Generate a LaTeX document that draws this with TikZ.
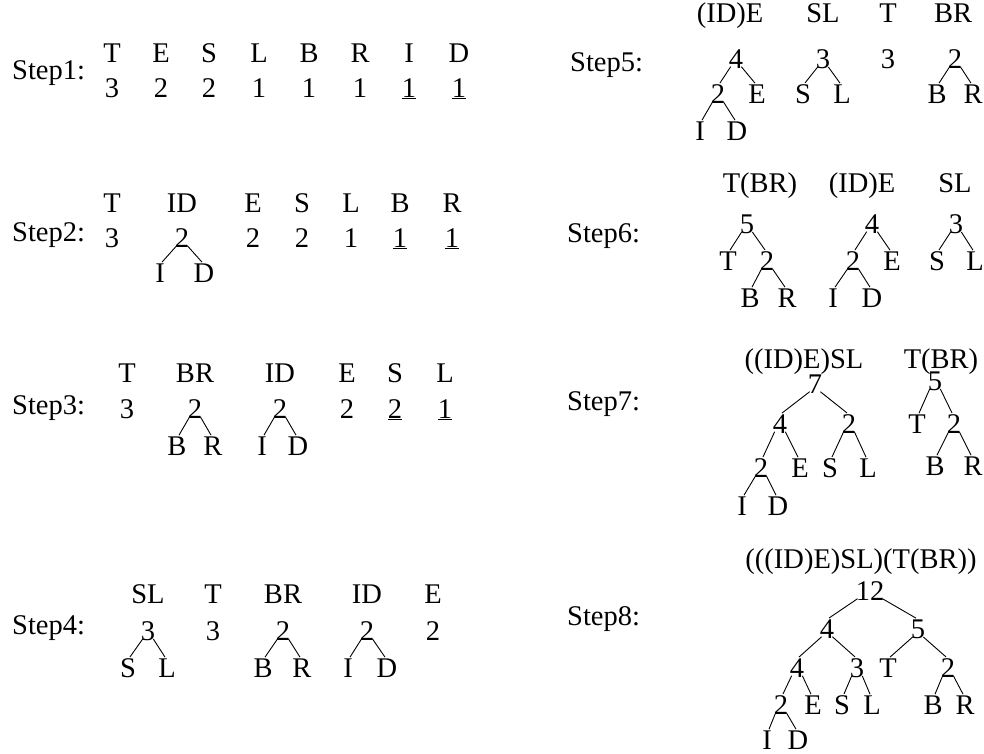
\documentclass[tikz,border=0pt]{standalone}
\usepackage{fontspec}
\setmainfont{Liberation Serif}
\newcommand{\fsz}{\fontsize{28.5}{30}\selectfont}
\tikzset{
  lbl/.style={inner sep=0pt, anchor=base, font=\fsz},
  steplbl/.style={inner sep=0pt, anchor=base west, font=\fsz},
  edge/.style={line width=0.9pt}
}
\newcommand{\lr}[3]{%
  \draw[edge] ([xshift=2pt,yshift=1.5pt]#1.south west) -- ([xshift=2pt,yshift=1pt]#2.north);
  \draw[edge] ([xshift=-2pt,yshift=1.5pt]#1.south east) -- ([xshift=-2pt,yshift=1pt]#3.north);}
\begin{document}
\begin{tikzpicture}[x=1pt,y=-1pt]
\useasboundingbox (0,0) rectangle (984,753);
% ---------- Step 1
\node[steplbl] (s1) at (12,79) {Step1:};
\node[lbl] (a1) at (112,62) {T};
\node[lbl] (a2) at (161,62) {E};
\node[lbl] (a3) at (209,62) {S};
\node[lbl] (a4) at (259,62) {L};
\node[lbl] (a5) at (309,62) {B};
\node[lbl] (a6) at (360,62) {R};
\node[lbl] (a7) at (409,62) {I};
\node[lbl] (a8) at (459,62) {D};
\node[lbl] (b1) at (112,97) {3};
\node[lbl] (b2) at (161,97) {2};
\node[lbl] (b3) at (209,97) {2};
\node[lbl] (b4) at (259,97) {1};
\node[lbl] (b5) at (309,97) {1};
\node[lbl] (b6) at (360,97) {1};
\node[lbl] (b7) at (409,97) {\underline{1}};
\node[lbl] (b8) at (459,97) {\underline{1}};
% ---------- Step 2
\node[steplbl] (s2) at (12,241) {Step2:};
\node[lbl] (c1) at (112,212) {T};
\node[lbl] (c2) at (182,212) {ID};
\node[lbl] (c3) at (253,212) {E};
\node[lbl] (c4) at (302,212) {S};
\node[lbl] (c5) at (351,212) {L};
\node[lbl] (c6) at (400,212) {B};
\node[lbl] (c7) at (452,212) {R};
\node[lbl] (d1) at (112,247) {3};
\node[lbl] (d2) at (182,247) {2};
\node[lbl] (d3) at (253,247) {2};
\node[lbl] (d4) at (302,247) {2};
\node[lbl] (d5) at (351,247) {1};
\node[lbl] (d6) at (400,247) {\underline{1}};
\node[lbl] (d7) at (452,247) {\underline{1}};
\node[lbl] (d2l) at (160,282) {I};
\node[lbl] (d2r) at (204,282) {D};
\lr{d2}{d2l}{d2r}
% ---------- Step 3
\node[steplbl] (s3) at (12,414) {Step3:};
\node[lbl] (e1) at (127,382) {T};
\node[lbl] (e2) at (195,382) {BR};
\node[lbl] (e3) at (280,382) {ID};
\node[lbl] (e4) at (347,382) {E};
\node[lbl] (e5) at (395,382) {S};
\node[lbl] (e6) at (445,382) {L};
\node[lbl] (f1) at (127,418) {3};
\node[lbl] (f2) at (195,418) {2};
\node[lbl] (f3) at (280,418) {2};
\node[lbl] (f4) at (347,418) {2};
\node[lbl] (f5) at (395,418) {\underline{2}};
\node[lbl] (f6) at (445,418) {\underline{1}};
\node[lbl] (f2l) at (177,455) {B};
\node[lbl] (f2r) at (213,455) {R};
\node[lbl] (f3l) at (262,455) {I};
\node[lbl] (f3r) at (298,455) {D};
\lr{f2}{f2l}{f2r}
\lr{f3}{f3l}{f3r}
% ---------- Step 4
\node[steplbl] (s4) at (12,634) {Step4:};
\node[lbl] (g1) at (148,603) {SL};
\node[lbl] (g2) at (213,603) {T};
\node[lbl] (g3) at (283,603) {BR};
\node[lbl] (g4) at (367,603) {ID};
\node[lbl] (g5) at (433,603) {E};
\node[lbl] (h1) at (148,640) {3};
\node[lbl] (h2) at (213,640) {3};
\node[lbl] (h3) at (283,640) {2};
\node[lbl] (h4) at (367,640) {2};
\node[lbl] (h5) at (433,640) {2};
\node[lbl] (h1l) at (128,677) {S};
\node[lbl] (h1r) at (167,677) {L};
\node[lbl] (h3l) at (263,677) {B};
\node[lbl] (h3r) at (302,677) {R};
\node[lbl] (h4l) at (348,677) {I};
\node[lbl] (h4r) at (387,677) {D};
\lr{h1}{h1l}{h1r}
\lr{h3}{h3l}{h3r}
\lr{h4}{h4l}{h4r}
% ---------- Step 5
\node[steplbl] (s5) at (570,71) {Step5:};
\node[lbl] (i1) at (730,22) {(ID)E};
\node[lbl] (i2) at (823,22) {SL};
\node[lbl] (i3) at (888,22) {T};
\node[lbl] (i4) at (953,22) {BR};
\node[lbl] (j1) at (736,68) {4};
\node[lbl] (j2) at (823,68) {3};
\node[lbl] (j3) at (888,68) {3};
\node[lbl] (j4) at (955,68) {2};
\node[lbl] (j1l) at (718,103) {2};
\node[lbl] (j1r) at (757,103) {E};
\node[lbl] (j2l) at (803,103) {S};
\node[lbl] (j2r) at (842,103) {L};
\node[lbl] (j4l) at (937,103) {B};
\node[lbl] (j4r) at (973,103) {R};
\node[lbl] (j1ll) at (700,140) {I};
\node[lbl] (j1lr) at (737,140) {D};
\lr{j1}{j1l}{j1r}
\lr{j1l}{j1ll}{j1lr}
\lr{j2}{j2l}{j2r}
\lr{j4}{j4l}{j4r}
% ---------- Step 6
\node[steplbl] (s6) at (567,242) {Step6:};
\node[lbl] (k1) at (760,192) {T(BR)};
\node[lbl] (k2) at (862,192) {(ID)E};
\node[lbl] (k3) at (955,192) {SL};
\node[lbl] (m1) at (747,233) {5};
\node[lbl] (m2) at (872,233) {4};
\node[lbl] (m3) at (956,233) {3};
\node[lbl] (m1l) at (728,270) {T};
\node[lbl] (m1r) at (767,270) {2};
\node[lbl] (m2l) at (853,270) {2};
\node[lbl] (m2r) at (892,270) {E};
\node[lbl] (m3l) at (937,270) {S};
\node[lbl] (m3r) at (975,270) {L};
\node[lbl] (m1rl) at (750,307) {B};
\node[lbl] (m1rr) at (787,307) {R};
\node[lbl] (m2ll) at (833,307) {I};
\node[lbl] (m2lr) at (872,307) {D};
\lr{m1}{m1l}{m1r}
\lr{m1r}{m1rl}{m1rr}
\lr{m2}{m2l}{m2r}
\lr{m2l}{m2ll}{m2lr}
\lr{m3}{m3l}{m3r}
% ---------- Step 7
\node[steplbl] (s7) at (567,410) {Step7:};
\node[lbl] (n1) at (804,368) {((ID)E)SL};
\node[lbl] (n2) at (941,368) {T(BR)};
\node[lbl] (p1) at (815,393) {7};
\node[lbl] (p2) at (935,390) {5};
\node[lbl] (p1l) at (780,433) {4};
\node[lbl] (p1r) at (849,433) {2};
\node[lbl] (p2l) at (917,433) {T};
\node[lbl] (p2r) at (954,433) {2};
\node[lbl] (p1ll) at (761,477) {2};
\node[lbl] (p1lr) at (800,477) {E};
\node[lbl] (p1rl) at (830,477) {S};
\node[lbl] (p1rr) at (868,477) {L};
\node[lbl] (p2rl) at (935,475) {B};
\node[lbl] (p2rr) at (973,475) {R};
\node[lbl] (p1lll) at (742,515) {I};
\node[lbl] (p1llr) at (778,515) {D};
\lr{p1}{p1l}{p1r}
\lr{p1l}{p1ll}{p1lr}
\lr{p1ll}{p1lll}{p1llr}
\lr{p1r}{p1rl}{p1rr}
\lr{p2}{p2l}{p2r}
\lr{p2r}{p2rl}{p2rr}
% ---------- Step 8
\node[steplbl] (s8) at (567,625) {Step8:};
\node[lbl] (q0) at (861,568) {(((ID)E)SL)(T(BR))};
\node[lbl] (r0) at (870,600) {12};
\node[lbl] (r1) at (827,638) {4};
\node[lbl] (r2) at (918,638) {5};
\node[lbl] (r11) at (797,677) {4};
\node[lbl] (r12) at (857,677) {3};
\node[lbl] (r21) at (888,677) {T};
\node[lbl] (r22) at (948,677) {2};
\node[lbl] (r111) at (781,714) {2};
\node[lbl] (r112) at (813,714) {E};
\node[lbl] (r121) at (842,714) {S};
\node[lbl] (r122) at (872,714) {L};
\node[lbl] (r221) at (933,714) {B};
\node[lbl] (r222) at (965,714) {R};
\node[lbl] (r1111) at (767,749) {I};
\node[lbl] (r1112) at (798,749) {D};
\lr{r0}{r1}{r2}
\lr{r1}{r11}{r12}
\lr{r11}{r111}{r112}
\lr{r111}{r1111}{r1112}
\lr{r12}{r121}{r122}
\lr{r2}{r21}{r22}
\lr{r22}{r221}{r222}
\end{tikzpicture}
\end{document}
